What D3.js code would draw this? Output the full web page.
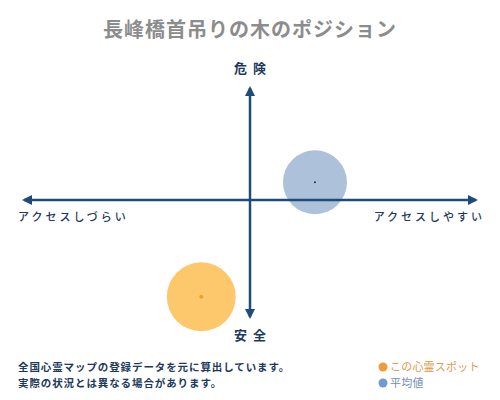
<!DOCTYPE html>
<html><head><meta charset="utf-8">
<script src="https://cdn.jsdelivr.net/npm/d3@7"></script>
<style>
html,body{margin:0;padding:0;background:#fff;}
svg{display:block;font-family:"Noto Sans CJK JP","Noto Sans",sans-serif;}
</style></head>
<body>
<svg id="c" width="500" height="400"></svg>
<script>
// ---- data ----
const titleText = "長峰橋首吊りの木のポジション";
const axisLabels = { top: "危険", bottom: "安全", left: "アクセスしづらい", right: "アクセスしやすい" };
const seriesNames = ["この心霊スポット", "平均値"];
const xValues = [-21, 28];      // access: negative = hard, positive = easy
const yValues = [-82, 15];      // danger: positive = dangerous
const weights = [1.16, 1.0];    // relative bubble weight
const notes = ["全国心霊マップの登録データを元に算出しています。", "実際の状況とは異なる場合があります。"];

// ---- layout ----
const svg = d3.select("#c");
const W = 500, H = 400;
const cx = 250, cy = 200;
const x = d3.scaleLinear().domain([-100, 100]).range([18, 482]);
const y = d3.scaleLinear().domain([-100, 100]).range([318, 82]);
const r = d3.scaleSqrt().domain([0, 1]).range([0, 32]);
const axisColor = "#1d4b7a";
const fills = ["#fdc86c", "#adc2da"];
const dotColors = ["#f0a028", "#1d3550"];
const legendColors = ["#f09a3a", "#6f9ccc"];
const legendText = ["#e09a48", "#6f8fb5"];

svg.append("text").attr("x", W/2).attr("y", 37).attr("text-anchor", "middle")
  .attr("font-size", 20).attr("font-weight", "bold").attr("fill", "#8c8c8c")
  .attr("letter-spacing", 1).text(titleText);

// arrow markers
const defs = svg.append("defs");
defs.append("marker").attr("id", "ah").attr("viewBox", "0 0 10 10")
  .attr("refX", 8).attr("refY", 5).attr("markerWidth", 4).attr("markerHeight", 4)
  .attr("orient", "auto-start-reverse")
  .append("path").attr("d", "M0,0 L10,5 L0,10 Z").attr("fill", axisColor);

// bubbles (behind axes)
const idx = d3.range(xValues.length);
svg.selectAll("circle.b").data(idx).join("circle").attr("class", "b")
  .attr("cx", i => x(xValues[i])).attr("cy", i => y(yValues[i]))
  .attr("r", i => r(weights[i])).attr("fill", i => fills[i]);

// axes
svg.append("line").attr("x1", x(-100) + 6).attr("x2", x(100) - 6).attr("y1", cy).attr("y2", cy)
  .attr("stroke", axisColor).attr("stroke-width", 2.5)
  .attr("marker-start", "url(#ah)").attr("marker-end", "url(#ah)");
svg.append("line").attr("x1", cx).attr("x2", cx).attr("y1", 82 + 6).attr("y2", 323 - 6)
  .attr("stroke", axisColor).attr("stroke-width", 2.5)
  .attr("marker-start", "url(#ah)").attr("marker-end", "url(#ah)");

// center dots
svg.selectAll("circle.d").data(idx).join("circle").attr("class", "d")
  .attr("cx", i => x(xValues[i])).attr("cy", i => y(yValues[i]))
  .attr("r", i => i === 0 ? 2 : 1).attr("fill", i => dotColors[i]);

// axis labels
const labFill = "#1d3a5c";
svg.append("text").attr("x", cx + 3).attr("y", 73).attr("text-anchor", "middle")
  .attr("font-size", 13).attr("font-weight", "bold").attr("fill", labFill)
  .attr("letter-spacing", 6).text(axisLabels.top);
svg.append("text").attr("x", cx + 3).attr("y", 340).attr("text-anchor", "middle")
  .attr("font-size", 13).attr("font-weight", "bold").attr("fill", labFill)
  .attr("letter-spacing", 6).text(axisLabels.bottom);
svg.append("text").attr("x", 18).attr("y", 221)
  .attr("font-size", 11).attr("fill", labFill).attr("font-weight", 500)
  .attr("letter-spacing", 3).text(axisLabels.left);
svg.append("text").attr("x", 485).attr("y", 221).attr("text-anchor", "end")
  .attr("font-size", 11).attr("fill", labFill).attr("font-weight", 500)
  .attr("letter-spacing", 3).text(axisLabels.right);

// notes
svg.selectAll("text.n").data(notes).join("text").attr("class", "n")
  .attr("x", 18).attr("y", (d, i) => 371 + i * 16)
  .attr("font-size", 10.5).attr("font-weight", "bold").attr("fill", "#1d3a5c")
  .attr("letter-spacing", 0.9).text(d => d);

// legend
const lg = svg.selectAll("g.l").data(seriesNames).join("g").attr("class", "l")
  .attr("transform", (d, i) => `translate(383,${367 + i * 16})`);
lg.append("circle").attr("r", 4.5).attr("fill", (d, i) => legendColors[i]);
lg.append("text").attr("x", 7).attr("y", 4).attr("font-size", 11)
  .attr("fill", (d, i) => legendText[i]).attr("letter-spacing", 0.2).text(d => d);
</script>
</body></html>
